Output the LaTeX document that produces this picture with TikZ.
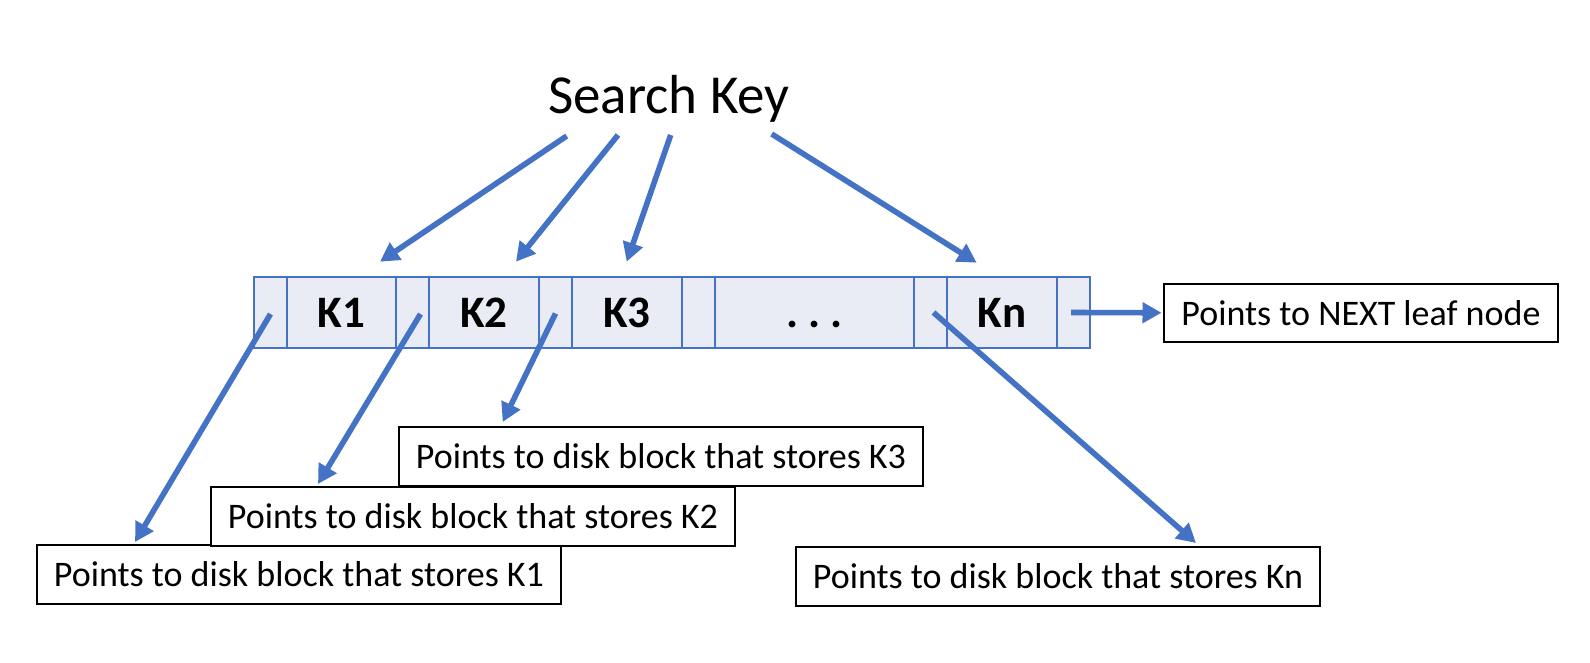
\documentclass[tikz,border=0pt]{standalone}
\usepackage{fontspec}
\setmainfont{Carlito}
\usetikzlibrary{arrows.meta,calc}
\definecolor{obl}{HTML}{4472C4}
\definecolor{cellfill}{HTML}{E9EBF5}
\begin{document}
\begin{tikzpicture}[x=1pt,y=-1pt,
  cell/.style={draw=obl, line width=1.8pt, fill=cellfill, minimum height=71pt,
    inner sep=0pt, outer sep=0pt, text height=29pt, text depth=0pt,
    font=\fontsize{45}{54}\selectfont\bfseries},
  lbl/.style={draw=black, fill=white, line width=2pt, minimum width=524pt,
    minimum height=58.5pt, inner sep=0pt, outer sep=0pt,
    font=\fontsize{36}{43}\selectfont, anchor=north west},
  arr/.style={draw=obl, line width=5.6pt, -{Triangle[length=19pt,width=20pt]}}]
\useasboundingbox (0,0) rectangle (1590,662);

% title
\node[font=\fontsize{55}{66}\selectfont, anchor=base, inner sep=0pt] (sk) at (669,113.3) {Search Key};

% leaf node cells
\node[cell, minimum width=33pt]  (p0)   at (270.5,312.5) {};
\node[cell, minimum width=109pt] (k1)   at (341.5,312.5) {K1};
\node[cell, minimum width=33pt]  (p1)   at (412.5,312.5) {};
\node[cell, minimum width=110pt] (k2)   at (484,312.5)   {K2};
\node[cell, minimum width=33pt]  (p2)   at (555.5,312.5) {};
\node[cell, minimum width=110pt] (k3)   at (627,312.5)   {K3};
\node[cell, minimum width=33pt]  (p3)   at (698.5,312.5) {};
\node[cell, minimum width=199pt] (dots) at (814.5,312.5) {.\ .\ .};
\node[cell, minimum width=33pt]  (p4)   at (930.5,312.5) {};
\node[cell, minimum width=110pt] (kn)   at (1002,312.5)  {Kn};
\node[cell, minimum width=33pt]  (p5)   at (1073.5,312.5) {};

% label boxes
\node[lbl] (b1) at (37,545)  {Points to disk block that stores K1};
\node[lbl] (b2) at (211,487) {Points to disk block that stores K2};
\node[lbl] (b3) at (399,427) {Points to disk block that stores K3};
\node[lbl] (bn) at (796,547) {Points to disk block that stores Kn};
\node[lbl, minimum width=394pt] (bnext) at (1164,283.5) {Points to NEXT leaf node};

% search key arrows
\coordinate (s1) at (566.7,136);
\coordinate (s2) at (618,135);
\coordinate (s3) at (670.7,135);
\coordinate (s4) at (771.7,134);
\coordinate (e1) at (380,261.7);
\coordinate (e2) at (516,261.7);
\coordinate (e3) at (626.7,261.7);
\coordinate (e4) at (976.7,262.7);
\draw[arr] (s1) -- (e1);
\draw[arr] (s2) -- (e2);
\draw[arr] (s3) -- (e3);
\draw[arr] (s4) -- (e4);

% pointer arrows
\coordinate (t1) at (135,542);
\coordinate (t2) at (318,484);
\coordinate (t3) at (502.7,422);
\coordinate (tn) at (1196,543);
\draw[arr] ([shift={(0,1.5)}]p0.center) -- (t1);
\draw[arr] ([shift={(8,1.5)}]p1.center) -- (t2);
\draw[arr] ([shift={(0,1)}]p2.center) -- (t3);
\draw[arr] ([shift={(3,0)}]p4.center) -- (tn);
\draw[arr] ([shift={(-2.5,0)}]p5.center) -- ([xshift=-2.5pt]bnext.west);
\end{tikzpicture}
\end{document}
